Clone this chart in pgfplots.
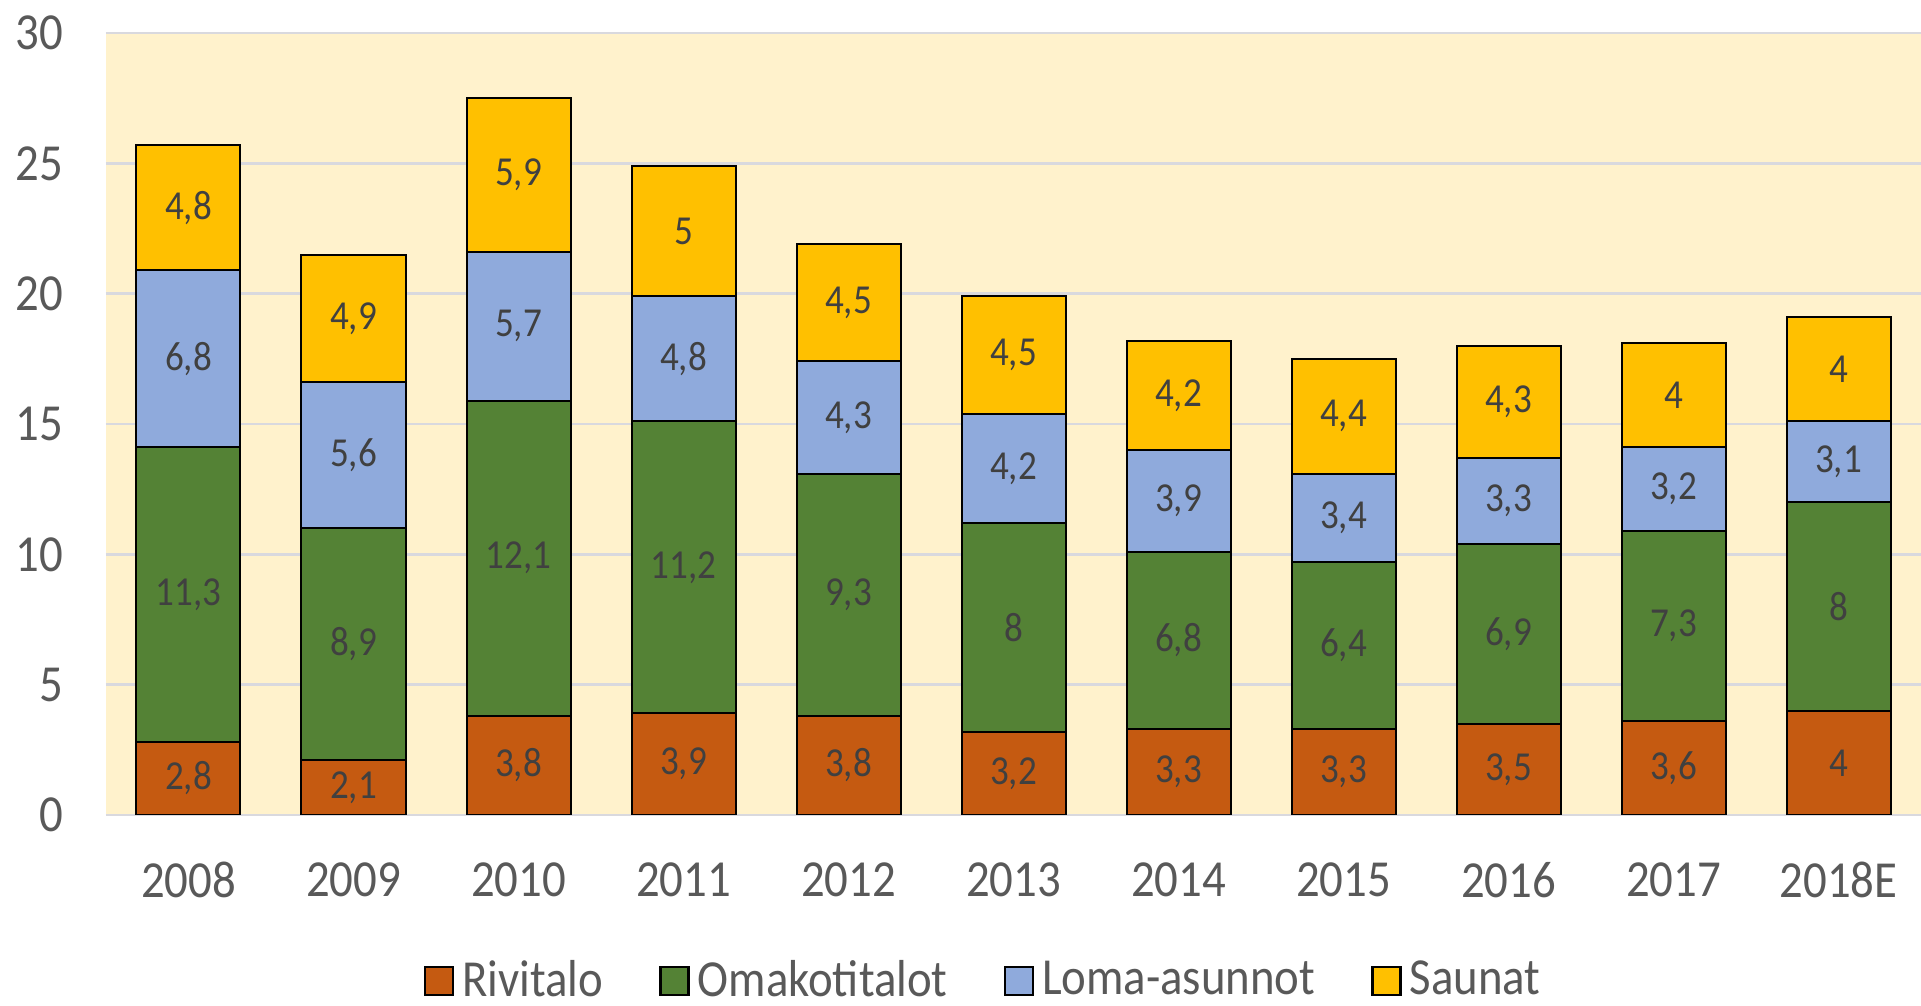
\documentclass[border=0pt]{standalone}
\usepackage{fontspec}
\setmainfont{Carlito}[FakeStretch=0.9]
\usepackage{pgfplots}
\pgfplotsset{compat=1.18}
\usepackage{pgfplotstable}
\definecolor{cR}{HTML}{C55A11}
\definecolor{cO}{HTML}{548235}
\definecolor{cL}{HTML}{8FAADC}
\definecolor{cS}{HTML}{FFC000}
\definecolor{bgc}{HTML}{FFF2CC}
\definecolor{gridc}{HTML}{D9D9DE}
\definecolor{txt}{HTML}{595959}
\definecolor{lbl}{HTML}{404040}
\pgfplotstableread{
x a b c d
0 2.8 11.3 6.8 4.8
1 2.1 8.9 5.6 4.9
2 3.8 12.1 5.7 5.9
3 3.9 11.2 4.8 5
4 3.8 9.3 4.3 4.5
5 3.2 8 4.2 4.5
6 3.3 6.8 3.9 4.2
7 3.3 6.4 3.4 4.4
8 3.5 6.9 3.3 4.3
9 3.6 7.3 3.2 4
10 4 8 3.1 4
}\data
\begin{document}
\begin{tikzpicture}
\path[use as bounding box] (-26.5pt,-47.75pt) rectangle (453.75pt,203.75pt);
\begin{axis}[
  at={(0,0)}, anchor=south west,
  scale only axis, width=453.75pt, height=195.5pt,
  ybar stacked, bar width=26pt,
  xmin=-0.5, xmax=10.5, ymin=0, ymax=30,
  ytick={0,5,...,30},
  xtick={0,...,10},
  xticklabels={2008,2009,2010,2011,2012,2013,2014,2015,2016,2017,2018E},
  axis line style={draw=none},
  major tick length=0pt,
  ymajorgrids, grid style={color=gridc, line width=0.6pt},
  axis background/.style={fill=bgc},
  /pgf/number format/assume math mode=true,
  ticklabel style={font=\fontsize{13}{15}\selectfont, text=txt},
  yticklabel style={anchor=east, inner sep=0pt, xshift=-10.5pt},
  xticklabel style={anchor=center, inner sep=0pt, yshift=-16.25pt},
  point meta=explicit,
  nodes near coords={\pgfmathprintnumber[use comma,assume math mode=true]{\pgfplotspointmeta}},
  nodes near coords style={font=\fontsize{10.3}{12}\selectfont, text=lbl, anchor=center, inner sep=0pt},
  legend columns=4,
  legend style={at={(0.485,0)}, anchor=center, yshift=-41.5pt, draw=none, fill=none,
    font=\fontsize{13}{15}\selectfont, text=txt, inner sep=0pt,
    /tikz/every even column/.append style={column sep=12pt},
    /tikz/every odd column/.append style={column sep=0pt}},
  legend cell align=left,
  every axis plot/.append style={draw=black, line width=0.5pt},
  myleg/.style={legend image code/.code={\draw[##1,draw=black,line width=0.6pt] (0pt,-3.5pt) rectangle (7pt,3.5pt);}},
]
\addplot[fill=cR, myleg] table[x=x,y=a,meta=a] {\data};
\addplot[fill=cO, myleg] table[x=x,y=b,meta=b] {\data};
\addplot[fill=cL, myleg] table[x=x,y=c,meta=c] {\data};
\addplot[fill=cS, myleg] table[x=x,y=d,meta=d] {\data};
\legend{Rivitalo,Omakotitalot,Loma-asunnot,Saunat}
\end{axis}
\end{tikzpicture}
\end{document}
